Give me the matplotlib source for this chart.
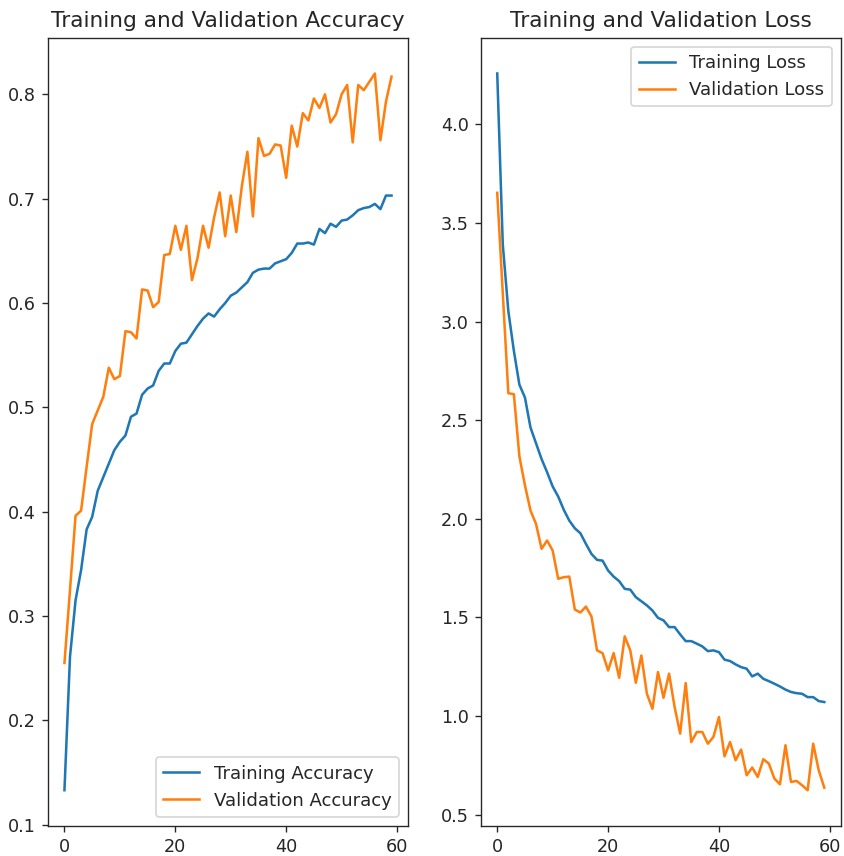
#!/usr/bin/env python3

import matplotlib

matplotlib.use("Agg")
import matplotlib.pyplot as plt


EPOCHS = list(range(60))

TRAIN_ACC = [
    0.133, 0.261, 0.315, 0.344, 0.383, 0.395, 0.420, 0.433, 0.446, 0.459,
    0.467, 0.473, 0.491, 0.494, 0.512, 0.518, 0.521, 0.535, 0.542, 0.542,
    0.554, 0.561, 0.562, 0.570, 0.578, 0.585, 0.590, 0.587, 0.594, 0.600,
    0.607, 0.610, 0.615, 0.620, 0.629, 0.632, 0.633, 0.633, 0.638, 0.640,
    0.642, 0.648, 0.657, 0.657, 0.658, 0.656, 0.671, 0.667, 0.676, 0.673,
    0.679, 0.680, 0.684, 0.689, 0.691, 0.692, 0.695, 0.690, 0.703, 0.703,
]
VAL_ACC = [
    0.255, 0.325, 0.396, 0.401, 0.443, 0.484, 0.497, 0.510, 0.538, 0.527,
    0.530, 0.573, 0.572, 0.566, 0.613, 0.612, 0.596, 0.601, 0.646, 0.647,
    0.674, 0.651, 0.674, 0.622, 0.643, 0.674, 0.653, 0.682, 0.706, 0.664,
    0.703, 0.668, 0.712, 0.745, 0.683, 0.758, 0.741, 0.743, 0.752, 0.751,
    0.720, 0.770, 0.750, 0.782, 0.775, 0.796, 0.787, 0.800, 0.773, 0.781,
    0.800, 0.809, 0.754, 0.809, 0.804, 0.812, 0.820, 0.756, 0.793, 0.817,
]
TRAIN_LOSS = [
    4.258, 3.392, 3.054, 2.852, 2.680, 2.615, 2.463, 2.383, 2.303, 2.236,
    2.164, 2.113, 2.046, 1.991, 1.952, 1.927, 1.873, 1.822, 1.792, 1.788,
    1.738, 1.707, 1.684, 1.645, 1.641, 1.603, 1.582, 1.561, 1.535, 1.498,
    1.485, 1.451, 1.451, 1.414, 1.380, 1.380, 1.367, 1.353, 1.329, 1.333,
    1.324, 1.286, 1.279, 1.262, 1.248, 1.240, 1.201, 1.215, 1.189, 1.177,
    1.164, 1.150, 1.134, 1.122, 1.116, 1.113, 1.096, 1.096, 1.076, 1.071,
]
VAL_LOSS = [
    3.653, 3.145, 2.637, 2.632, 2.316, 2.170, 2.042, 1.974, 1.848, 1.890,
    1.839, 1.696, 1.704, 1.707, 1.540, 1.525, 1.555, 1.505, 1.333, 1.319,
    1.231, 1.319, 1.194, 1.404, 1.333, 1.169, 1.307, 1.113, 1.037, 1.223,
    1.093, 1.215, 1.046, 0.911, 1.167, 0.868, 0.919, 0.919, 0.860, 0.894,
    0.995, 0.796, 0.868, 0.776, 0.830, 0.700, 0.739, 0.691, 0.781, 0.759,
    0.683, 0.654, 0.852, 0.666, 0.671, 0.649, 0.624, 0.860, 0.725, 0.637,
]


def main():
    dpi = 122
    plt.rcParams["xtick.labelsize"] = 10.4
    plt.rcParams["ytick.labelsize"] = 10.4
    plt.rcParams["legend.fontsize"] = 10.7
    plt.rcParams["axes.titlesize"] = 12.8
    plt.rcParams["text.color"] = "#262626"
    plt.rcParams["xtick.color"] = "#262626"
    plt.rcParams["ytick.color"] = "#262626"
    plt.rcParams["axes.edgecolor"] = "#262626"

    fig, (ax_acc, ax_loss) = plt.subplots(1, 2, figsize=(844 / dpi, 856 / dpi), dpi=dpi)
    fig.subplots_adjust(left=0.057, right=0.996, bottom=0.035, top=0.956, wspace=0.203)

    ax_acc.plot(EPOCHS, TRAIN_ACC, label="Training Accuracy")
    ax_acc.plot(EPOCHS, VAL_ACC, label="Validation Accuracy")
    ax_acc.legend(loc="lower right")
    ax_acc.set_title("Training and Validation Accuracy")

    ax_loss.plot(EPOCHS, TRAIN_LOSS, label="Training Loss")
    ax_loss.plot(EPOCHS, VAL_LOSS, label="Validation Loss")
    ax_loss.legend(loc="upper right")
    ax_loss.set_title("Training and Validation Loss")

    fig.savefig("out.png", dpi=dpi)
    plt.close(fig)


if __name__ == "__main__":
    main()
